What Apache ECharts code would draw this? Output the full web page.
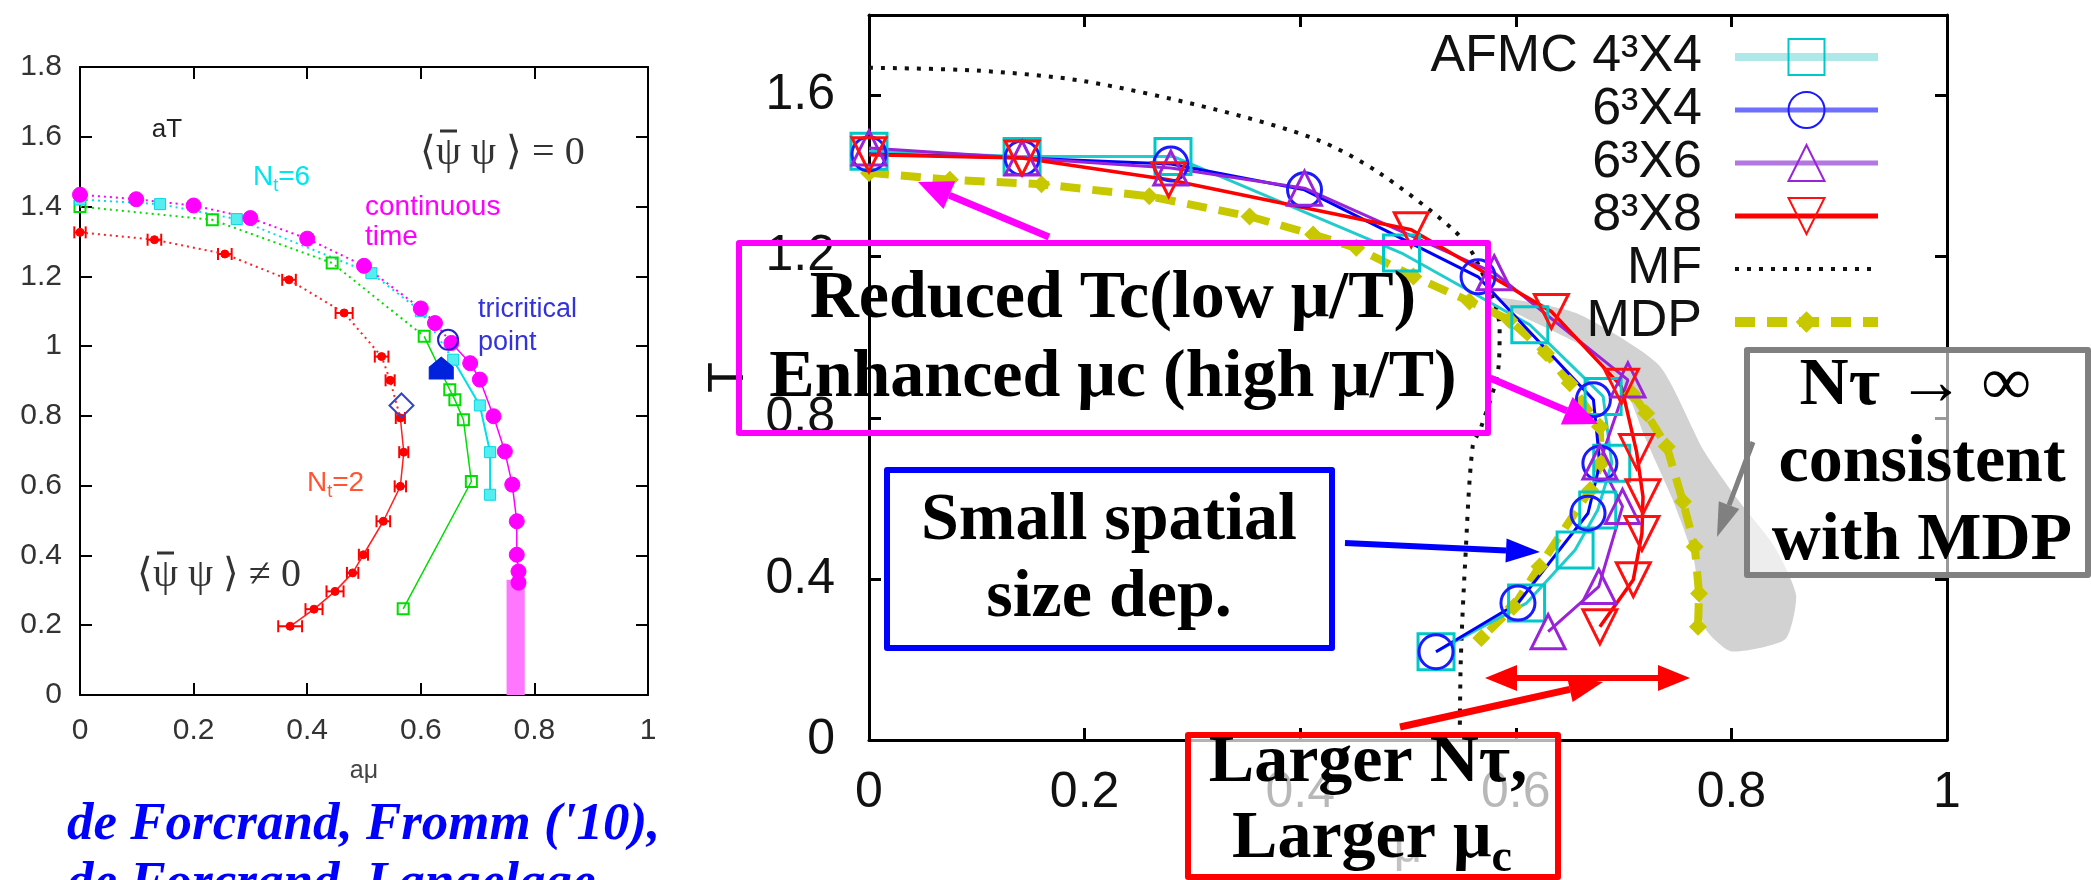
<!DOCTYPE html>
<html>
<head>
<meta charset="utf-8">
<title>phase diagram</title>
<script src="https://cdn.jsdelivr.net/npm/echarts@6/dist/echarts.min.js"></script>
<style>
html,body{margin:0;padding:0;background:#fff}
#chart{width:2091px;height:880px}
</style>
</head>
<body>
<div id="chart"></div>
<script>
// ---- left panel (aT vs a mu) ----
var contTime = [[0,1.434],[0.099,1.421],[0.2,1.403],[0.3,1.367],[0.4,1.308],[0.5,1.23],[0.6,1.108],[0.625,1.066],[0.654,1.009],[0.687,0.951],[0.704,0.904],[0.728,0.799],[0.748,0.698],[0.761,0.603],[0.769,0.498],[0.769,0.402],[0.772,0.354],[0.772,0.322]];
var contBand = [0.751, 0.783, 0.33];
var nt6 = [[0,1.42],[0.141,1.407],[0.276,1.364],[0.513,1.209],[0.6,1.1],[0.657,0.961],[0.704,0.83],[0.722,0.696],[0.722,0.574]];
var nt4 = [[0,1.4],[0.233,1.362],[0.444,1.238],[0.606,1.028],[0.651,0.875],[0.66,0.846],[0.675,0.789],[0.689,0.612],[0.569,0.247]];
var nt2 = [[0,1.326],[0.131,1.305],[0.255,1.264],[0.368,1.19],[0.465,1.095],[0.531,0.97],[0.546,0.902],[0.564,0.794],[0.57,0.696],[0.564,0.598],[0.534,0.498],[0.499,0.402],[0.48,0.35],[0.449,0.297],[0.412,0.246],[0.37,0.197]];
var nt2Err = [0.01,0.012,0.012,0.012,0.015,0.012,0.008,0.008,0.008,0.01,0.012,0.008,0.01,0.015,0.015,0.021];
var tricritOpen = [[0.648,1.018]];
var tricritFull = [[0.636,0.937]];
var diamondPt = [[0.566,0.83]];

// ---- right panel (T vs mu) ----
var afmc4 = [[0,1.462],[0.142,1.449],[0.282,1.449],[0.494,1.209],[0.613,1.031],[0.681,0.853],[0.689,0.687],[0.676,0.571],[0.655,0.472],[0.61,0.34],[0.526,0.219]];
var lat6x4 = [[0,1.455],[0.142,1.445],[0.28,1.43],[0.404,1.366],[0.565,1.15],[0.672,0.845],[0.678,0.687],[0.667,0.563],[0.602,0.34],[0.526,0.219]];
var lat6x6 = [[0,1.47],[0.142,1.445],[0.28,1.42],[0.404,1.37],[0.58,1.16],[0.704,0.894],[0.678,0.69],[0.699,0.58],[0.677,0.381],[0.63,0.269]];
var lat8x8 = [[0,1.453],[0.142,1.445],[0.278,1.391],[0.503,1.267],[0.633,1.064],[0.698,0.878],[0.712,0.716],[0.718,0.604],[0.717,0.513],[0.709,0.398],[0.678,0.281]];
var mfLine = [[0,1.669],[0.1,1.662],[0.199,1.636],[0.322,1.565],[0.415,1.491],[0.471,1.412],[0.542,1.267],[0.563,1.193],[0.585,1.02],[0.584,0.927],[0.568,0.778],[0.56,0.729],[0.553,0.44],[0.549,0.2],[0.548,0]];
var mdpMain = [[0,1.408],[0.075,1.391],[0.16,1.38],[0.26,1.35],[0.353,1.3],[0.412,1.255],[0.452,1.222],[0.505,1.151],[0.557,1.089],[0.594,1.043],[0.628,0.961],[0.65,0.886],[0.678,0.778],[0.679,0.687],[0.669,0.621],[0.622,0.431],[0.598,0.331],[0.568,0.253]];
var mdpBranch = [[0.708,0.86],[0.721,0.811],[0.74,0.729],[0.755,0.592],[0.766,0.48],[0.77,0.364],[0.769,0.281]];
var mdpBand = [[0.58,1.1],[0.656,1.06],[0.733,0.93],[0.774,0.72],[0.805,0.6],[0.84,0.48],[0.86,0.36],[0.85,0.25],[0.8,0.22],[0.775,0.28],[0.765,0.45],[0.745,0.6],[0.72,0.75],[0.7,0.88],[0.66,0.98],[0.6,1.06]];

var SANS = '"Liberation Sans", Arial, sans-serif';
var NARROW = '"Liberation Sans Narrow", "Liberation Sans", sans-serif';
var SERIF = '"Liberation Serif", "Times New Roman", serif';
// small diamond inside a larger invisible box, so the MDP dots stay small in the legend too
var MDP_SYMBOL = 'path://M0,0 L0.1,0 L0,0.1 Z M30,30 L29.9,30 L30,29.9 Z M15,6 L24,15 L15,24 L6,15 Z';

var chart = echarts.init(document.getElementById('chart'));

function boxAxis(grid, pos, min, max, step, opts) {
  var a = {
    type: 'value', gridIndex: grid, position: pos, min: min, max: max, interval: step,
    splitLine: {show: false},
    axisLine: {show: true, onZero: false, lineStyle: {color: '#000', width: opts.lw}},
    axisTick: {show: true, inside: true, length: opts.tick, lineStyle: {color: '#000', width: opts.lw}},
    axisLabel: {show: false}
  };
  if (opts.label) {
    a.axisLabel = {show: true, margin: opts.margin, fontSize: opts.fs, fontFamily: opts.ff, color: opts.lc,
      showMaxLabel: opts.showMax !== false};
  }
  return a;
}

function arrow(x1, y1, x2, y2, color, w, hl, hw, both) {
  var ang = Math.atan2(y2 - y1, x2 - x1);
  var c = Math.cos(ang), s = Math.sin(ang);
  var px = -s * hw / 2, py = c * hw / 2;
  var bx = x2 - hl * c, by = y2 - hl * s;
  var sx = both ? x1 + hl * c : x1, sy = both ? y1 + hl * s : y1;
  var els = [
    {type: 'line', z: 100, shape: {x1: sx, y1: sy, x2: bx, y2: by}, style: {stroke: color, lineWidth: w}},
    {type: 'polygon', z: 100, shape: {points: [[x2, y2], [bx + px, by + py], [bx - px, by - py]]}, style: {fill: color}}
  ];
  if (both) {
    els.push({type: 'polygon', z: 100, shape: {points: [[x1, y1], [sx + px, sy + py], [sx - px, sy - py]]}, style: {fill: color}});
  }
  return els;
}

function txt(x, y, text, font, fill, align, rich) {
  return {type: 'text', z: 101, x: x, y: y,
    style: {text: text, font: font, fill: fill, align: align || 'center', textAlign: align || 'center',
      verticalAlign: 'middle', textVerticalAlign: 'middle', rich: rich}};
}

function box(x, y, w, h, color, fill) {
  return {type: 'rect', z: 99, shape: {x: x, y: y, width: w, height: h},
    style: {stroke: color, lineWidth: 6, fill: fill || 'rgba(0,0,0,0)', lineJoin: 'round'}};
}

function bar(x1, x2, y, color) {
  return {type: 'line', z: 101, shape: {x1: x1, y1: y, x2: x2, y2: y}, style: {stroke: color, lineWidth: 3}};
}

var leftLabel = {label: true, lw: 2, tick: 12, margin: 21, fs: 30, ff: SANS, lc: '#333'};
var leftPlain = {lw: 2, tick: 12};
var rightLabel = {label: true, lw: 3, tick: 12, margin: 28, fs: 50, ff: NARROW, lc: '#111'};
var rightPlain = {lw: 3, tick: 12};

var xAxes = [
  boxAxis(0, 'bottom', 0, 1, 0.2, leftLabel),
  boxAxis(0, 'top', 0, 1, 0.2, leftPlain),
  boxAxis(1, 'bottom', 0, 1, 0.2, rightLabel),
  boxAxis(1, 'top', 0, 1, 0.2, rightPlain)
];
xAxes[0].name = 'aμ'; xAxes[0].nameLocation = 'middle'; xAxes[0].nameGap = 64;
xAxes[0].nameTextStyle = {fontSize: 25, fontFamily: SANS, color: '#444'};
xAxes[2].name = 'μ'; xAxes[2].nameLocation = 'middle'; xAxes[2].nameGap = 78;
xAxes[2].nameTextStyle = {fontSize: 50, fontFamily: NARROW, color: '#333'};

var rightY = Object.assign({}, rightLabel, {margin: 34, showMax: false});
var yAxes = [
  boxAxis(0, 'left', 0, 1.8, 0.2, leftLabel),
  boxAxis(0, 'right', 0, 1.8, 0.2, leftPlain),
  boxAxis(1, 'left', 0, 1.8, 0.4, rightY),
  boxAxis(1, 'right', 0, 1.8, 0.4, rightPlain)
];
yAxes[0].axisLabel.margin = 18;
yAxes[2].name = 'T'; yAxes[2].nameLocation = 'middle'; yAxes[2].nameGap = 70; yAxes[2].nameRotate = 90;
yAxes[2].nameTextStyle = {fontSize: 50, fontFamily: NARROW, color: '#111'};

function lineS(name, data, xi, color, width, type, extra) {
  var s = {
    name: name, type: 'line', xAxisIndex: xi, yAxisIndex: xi, data: data,
    showSymbol: false, symbol: 'none', smooth: false, animation: false, silent: true,
    lineStyle: {color: color, width: width, type: type || 'solid'}
  };
  return Object.assign(s, extra || {});
}

function markers(name, data, xi, symbol, size, fill, stroke, bw, extra) {
  var s = {
    name: name, type: 'line', xAxisIndex: xi, yAxisIndex: xi, data: data,
    symbol: symbol, symbolSize: size, showSymbol: true, animation: false, silent: true,
    lineStyle: {width: 0, opacity: 0},
    itemStyle: {color: fill, borderColor: stroke, borderWidth: bw}
  };
  return Object.assign(s, extra || {});
}

var dotted = [2, 4];

var series = [
  // left panel
  lineS('ct-top', contTime.slice(0, 9), 0, '#ff00ff', 2, dotted),
  lineS('ct-low', contTime.slice(8), 0, '#ff00ff', 1.5, 'solid', {
    markArea: {silent: true, itemStyle: {color: '#ff77ff'},
      data: [[{coord: [contBand[0], 0]}, {coord: [contBand[1], contBand[2]]}]]}
  }),
  lineS('nt6-top', nt6.slice(0, 6), 0, '#00e0e8', 2, dotted),
  lineS('nt6-low', nt6.slice(5), 0, '#00e0e8', 2),
  lineS('nt4-top', nt4.slice(0, 4), 0, '#00dd00', 2, dotted),
  lineS('nt4-low', nt4.slice(3), 0, '#00dd00', 1.5),
  lineS('nt2-top', nt2.slice(0, 8), 0, '#ff2020', 2, dotted),
  lineS('nt2-low', nt2.slice(7), 0, '#ff2020', 1.5),
  {
    name: 'nt2-err', type: 'custom', xAxisIndex: 0, yAxisIndex: 0, silent: true, animation: false,
    data: nt2.map(function (p, i) { return [p[0], p[1], nt2Err[i]]; }),
    renderItem: function (params, api) {
      var x = api.value(0), y = api.value(1), e = api.value(2);
      var a = api.coord([x - e, y]), b = api.coord([x + e, y]);
      var st = {stroke: '#ff0000', lineWidth: 2};
      return {type: 'group', children: [
        {type: 'line', shape: {x1: a[0], y1: a[1], x2: b[0], y2: b[1]}, style: st},
        {type: 'line', shape: {x1: a[0], y1: a[1] - 6, x2: a[0], y2: a[1] + 6}, style: st},
        {type: 'line', shape: {x1: b[0], y1: b[1] - 6, x2: b[0], y2: b[1] + 6}, style: st}
      ]};
    }
  },
  markers('nt2-pt', nt2, 0, 'circle', 8, '#ff0000', '#ff0000', 1),
  markers('nt4-pt', nt4, 0, 'rect', 11, 'rgba(255,255,255,0)', '#00dd00', 2),
  markers('nt6-pt', nt6, 0, 'rect', 11, '#55eef0', '#00d8e0', 1),
  markers('ct-pt', contTime, 0, 'circle', 15, '#ff00ff', '#ff00ff', 1),
  markers('tri-open', tricritOpen, 0, 'circle', 20, 'rgba(0,0,0,0)', '#2222cc', 2),
  markers('tri-full', tricritFull, 0, 'path://M5,0 L10,5 L10,11 L0,11 L0,5 Z', [24, 22], '#0022dd', '#0022dd', 1),
  markers('diamond', diamondPt, 0, 'diamond', 24, 'rgba(0,0,0,0)', '#3344cc', 2),

  // right panel
  {
    name: 'band', type: 'custom', xAxisIndex: 2, yAxisIndex: 2, silent: true, animation: false, z: 1,
    data: [[0.7, 0.7]],
    renderItem: function (params, api) {
      var pts = mdpBand.map(function (p) { return api.coord(p); });
      return {type: 'polygon', shape: {points: pts, smooth: 0.2}, style: {fill: '#d2d2d2'}};
    }
  },
  lineS('MF', mfLine, 2, '#111', 4, [4, 8], {smooth: 0.3}),
  lineS('MDP', mdpMain, 2, '#c8c800', 8, [20, 12], {
    showSymbol: true, symbol: MDP_SYMBOL, symbolSize: 30, itemStyle: {color: '#c8c800'}
  }),
  lineS('MDP', mdpBranch, 2, '#c8c800', 8, [20, 12], {
    showSymbol: true, symbol: MDP_SYMBOL, symbolSize: 30, itemStyle: {color: '#c8c800'}
  }),
  lineS('AFMC 4³X4', afmc4, 2, '#22cccc', 3, 'solid', {
    showSymbol: true, symbol: 'rect', symbolSize: 36,
    itemStyle: {color: 'rgba(0,0,0,0)', borderColor: '#00c8c8', borderWidth: 3}
  }),
  lineS('6³X4', lat6x4, 2, '#0000ff', 3, 'solid', {
    showSymbol: true, symbol: 'circle', symbolSize: 34,
    itemStyle: {color: 'rgba(0,0,0,0)', borderColor: '#1a1aff', borderWidth: 3}
  }),
  lineS('6³X6', lat6x6, 2, '#9a22d8', 3, 'solid', {
    showSymbol: true, symbol: 'triangle', symbolSize: 34,
    itemStyle: {color: 'rgba(0,0,0,0)', borderColor: '#9a22d8', borderWidth: 3}
  }),
  lineS('8³X8', lat8x8, 2, '#ff0000', 3.5, 'solid', {
    showSymbol: true, symbol: 'triangle', symbolRotate: 180, symbolSize: 34,
    itemStyle: {color: 'rgba(0,0,0,0)', borderColor: '#ff1010', borderWidth: 3}
  })
];

var graphics = [];
// left panel texts
var subT = {s: {fontSize: 18, padding: [18, 0, 0, 0], fontFamily: SANS}};
graphics.push(txt(167, 130, 'aT', '26px ' + SANS, '#222'));
graphics.push(txt(253, 177, 'N{s|t}=6', '28px ' + SANS, '#00e5ee', 'left', subT));
graphics.push(txt(365, 207, 'continuous', '28px ' + SANS, '#ff00ff', 'left'));
graphics.push(txt(365, 237, 'time', '28px ' + SANS, '#ff00ff', 'left'));
graphics.push(txt(478, 310, 'tricritical', '27px ' + SANS, '#3333dd', 'left'));
graphics.push(txt(478, 343, 'point', '27px ' + SANS, '#3333dd', 'left'));
graphics.push(txt(307, 483, 'N{s|t}=2', '28px ' + SANS, '#ff5533', 'left', subT));
graphics.push(txt(420, 153, '⟨ψ ψ ⟩ = 0', '40px ' + SERIF, '#333', 'left'));
graphics.push(bar(440, 457, 131, '#333'));
graphics.push(txt(137, 575, '⟨ψ ψ ⟩ ≠ 0', '40px ' + SERIF, '#333', 'left'));
graphics.push(bar(157, 174, 553, '#333'));
graphics.push(txt(67, 825, "de Forcrand, Fromm ('10),", 'italic bold 53px ' + SERIF, '#0000ff', 'left'));
graphics.push(txt(67, 884, 'de Forcrand, Langelage,', 'italic bold 53px ' + SERIF, '#0000ff', 'left'));

// right panel annotation boxes
var BIG = 'bold 68px ' + SERIF;
graphics.push(box(739, 243, 749, 190, '#ff00ff'));
graphics.push(txt(1113, 299, 'Reduced Tc(low μ/T)', BIG, '#000'));
graphics.push(txt(1113, 378, 'Enhanced μc (high μ/T)', BIG, '#000'));
graphics = graphics.concat(arrow(1049, 237, 918, 182, '#ff00ff', 7, 34, 30));
graphics = graphics.concat(arrow(1490, 378, 1598, 424, '#ff00ff', 7, 34, 30));

graphics.push(box(887, 470, 445, 178, '#0000ff'));
graphics.push(txt(1109, 521, 'Small spatial', BIG, '#000'));
graphics.push(txt(1109, 598, 'size dep.', BIG, '#000'));
graphics = graphics.concat(arrow(1345, 543, 1540, 552, '#0000ff', 6, 34, 24));

graphics.push(box(1747, 350, 341, 225, '#808080', 'rgba(255,255,255,0.6)'));
graphics.push(txt(1915, 386, 'Nτ → ∞', BIG, '#000'));
graphics.push(txt(1922, 463, 'consistent', BIG, '#000'));
graphics.push(txt(1922, 541, 'with MDP', BIG, '#000'));
graphics = graphics.concat(arrow(1753, 442, 1717, 537, '#808080', 5, 34, 22));

graphics.push(box(1188, 735, 370, 142, '#ff0000', 'rgba(255,255,255,0.7)'));
graphics.push(txt(1368, 763, 'Larger Nτ,', BIG, '#000'));
graphics.push(txt(1372, 839, 'Larger μ{s|c}', BIG, '#000', 'center',
  {s: {font: 'bold 46px ' + SERIF, padding: [40, 0, 0, 0]}}));
graphics = graphics.concat(arrow(1485, 678, 1690, 678, '#ff0000', 6, 32, 26, true));
graphics = graphics.concat(arrow(1400, 727, 1603, 682, '#ff0000', 7, 34, 26));

chart.setOption({
  animation: false,
  backgroundColor: '#fff',
  grid: [
    {left: 80, top: 67, width: 568, height: 628},
    {left: 869, top: 15, width: 1078, height: 725}
  ],
  xAxis: xAxes,
  yAxis: yAxes,
  legend: {
    orient: 'vertical', right: 208, top: 31, padding: 0,
    itemWidth: 143, itemHeight: 45, itemGap: 1, align: 'right', selectedMode: false,
    textStyle: {fontFamily: NARROW, fontSize: 52, color: '#111', padding: [0, 28, 0, 0]},
    data: [
      {name: 'AFMC 4³X4', lineStyle: {color: '#aee8e8', width: 8}},
      {name: '6³X4', lineStyle: {color: '#6f6fff', width: 5}},
      {name: '6³X6', lineStyle: {color: '#b277e0', width: 5}},
      {name: '8³X8', lineStyle: {color: '#ff0000', width: 5}},
      {name: 'MF', lineStyle: {color: '#111', width: 4, type: [4, 8]}, itemStyle: {opacity: 0}},
      {name: 'MDP', lineStyle: {color: '#c8c800', width: 10, type: [20, 12]}}
    ]
  },
  graphic: {elements: graphics},
  series: series
});
</script>
</body>
</html>
